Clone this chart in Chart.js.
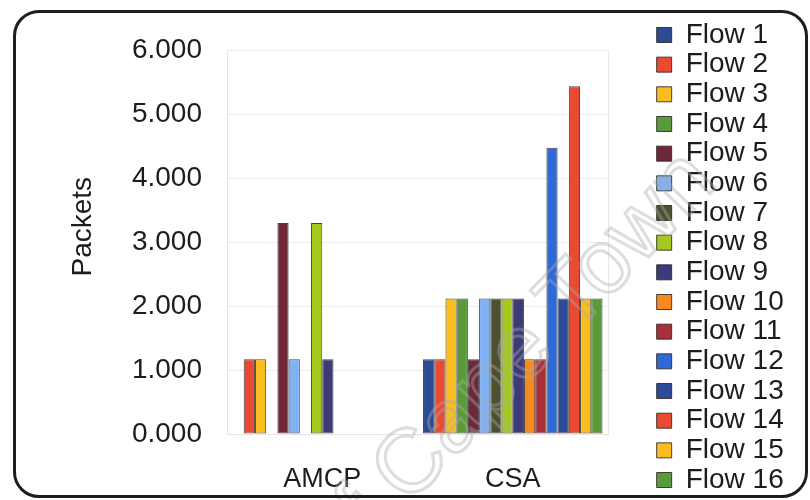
<!DOCTYPE html>
<html>
<head>
<meta charset="utf-8">
<script src="https://cdn.jsdelivr.net/npm/chart.js@4.4.0/dist/chart.umd.min.js"></script>
<style>
  html, body { margin: 0; padding: 0; background: #fff; }
  #wrap { position: relative; width: 810px; height: 500px; overflow: hidden; }
  #frame {
    position: absolute; left: 13px; top: 10px; width: 795px; height: 488px;
    box-sizing: border-box; border: 3px solid #1e1e1e; border-radius: 26px;
    pointer-events: none;
  }
  #mark {
    position: absolute; left: 361px; top: 511px;
    transform: translate(-50%, -50%) rotate(-46deg);
    font-family: 'Liberation Sans', sans-serif; font-size: 90px; white-space: nowrap;
    color: transparent; -webkit-text-stroke: 3px rgba(170,170,170,0.4);
    pointer-events: none;
  }
  canvas { position: absolute; left: 0; top: 0; }
</style>
</head>
<body>
<div id="wrap">
  <canvas id="chart-bar" width="810" height="500"></canvas>
  <div id="mark">University of Cape Town</div>
  <div id="frame"></div>
</div>
<script>
const categories = ['AMCP', 'CSA'];
const flowNames = ['Flow 1', 'Flow 2', 'Flow 3', 'Flow 4', 'Flow 5', 'Flow 6', 'Flow 7', 'Flow 8',
                   'Flow 9', 'Flow 10', 'Flow 11', 'Flow 12', 'Flow 13', 'Flow 14', 'Flow 15', 'Flow 16'];
const amcpPackets = [0, 1.17, 1.17, 0, 3.30, 1.17, 0, 3.30, 1.17, 0, 0, 0, 0, 0, 0, 0];
const csaPackets = [1.17, 1.17, 2.12, 2.12, 1.17, 2.12, 2.12, 2.12, 2.12, 1.17, 1.17, 4.48, 2.12, 5.44, 2.12, 2.12];
const flowColors = ['#2b4c94', '#e84a32', '#f9be1e', '#5b9a3a', '#6e2838', '#7eb2f4', '#4b5131', '#a4c81c',
                    '#3d3a78', '#f7891e', '#a8303a', '#2e69d6', '#2b4c94', '#e84a32', '#f9be1e', '#5b9a3a'];
const yTicks = [0, 1, 2, 3, 4, 5, 6];

const font = 'Liberation Sans';
const textColor = '#1c1c1c';

const showChart = () => {
  const ctx = document.getElementById('chart-bar');
  let datasets = [];
  flowNames.forEach((name, i) => {
    datasets.push({
      label: name,
      data: [amcpPackets[i], csaPackets[i]],
      backgroundColor: flowColors[i],
      borderColor: 'rgba(45,35,35,0.85)',
      borderWidth: 1,
      borderSkipped: false,
      categoryPercentage: 0.942,
      barPercentage: 1.0
    });
  });

  new Chart(ctx, {
    type: 'bar',
    data: { labels: categories, datasets: datasets },
    options: {
      responsive: false,
      animation: false,
      layout: { padding: { left: 0, right: 24, top: 19.3, bottom: 2 } },
      plugins: {
        // blank title only used to push the plot area down under the legend top
        title: { display: true, text: ' ', font: { size: 10, lineHeight: 1 }, padding: { top: 0, bottom: 21.2 } },
        legend: {
          position: 'right',
          align: 'start',
          labels: {
            boxWidth: 15, boxHeight: 15, padding: 1.67,
            color: textColor,
            font: { family: font, size: 28 }
          }
        },
        tooltip: { enabled: false }
      },
      scales: {
        x: {
          grid: { display: false },
          border: { color: '#e6e6e6' },
          ticks: { color: textColor, font: { family: font, size: 27 }, padding: 21.8 },
          afterFit: (axis) => { axis.height = 64; }
        },
        y: {
          min: yTicks[0],
          max: yTicks[yTicks.length - 1],
          afterBuildTicks: (axis) => { axis.ticks = yTicks.map(v => ({ value: v })); },
          ticks: {
            color: textColor, padding: 25,
            font: { family: font, size: 28 },
            callback: (v) => Number(v).toFixed(3)
          },
          grid: { color: '#ececec', drawTicks: false },
          border: { color: '#e6e6e6' },
          title: {
            display: true, text: '    Packets', color: textColor,
            font: { family: font, size: 28 },
            padding: { top: 66, bottom: 0 }
          },
          afterFit: (axis) => { axis.width = 227; }
        },
        yR: {
          position: 'right',
          grid: { display: false },
          ticks: { display: false },
          border: { color: '#e6e6e6' },
          afterFit: (axis) => { axis.width = 47; }
        }
      }
    }
  });
}

showChart();
</script>
</body>
</html>
